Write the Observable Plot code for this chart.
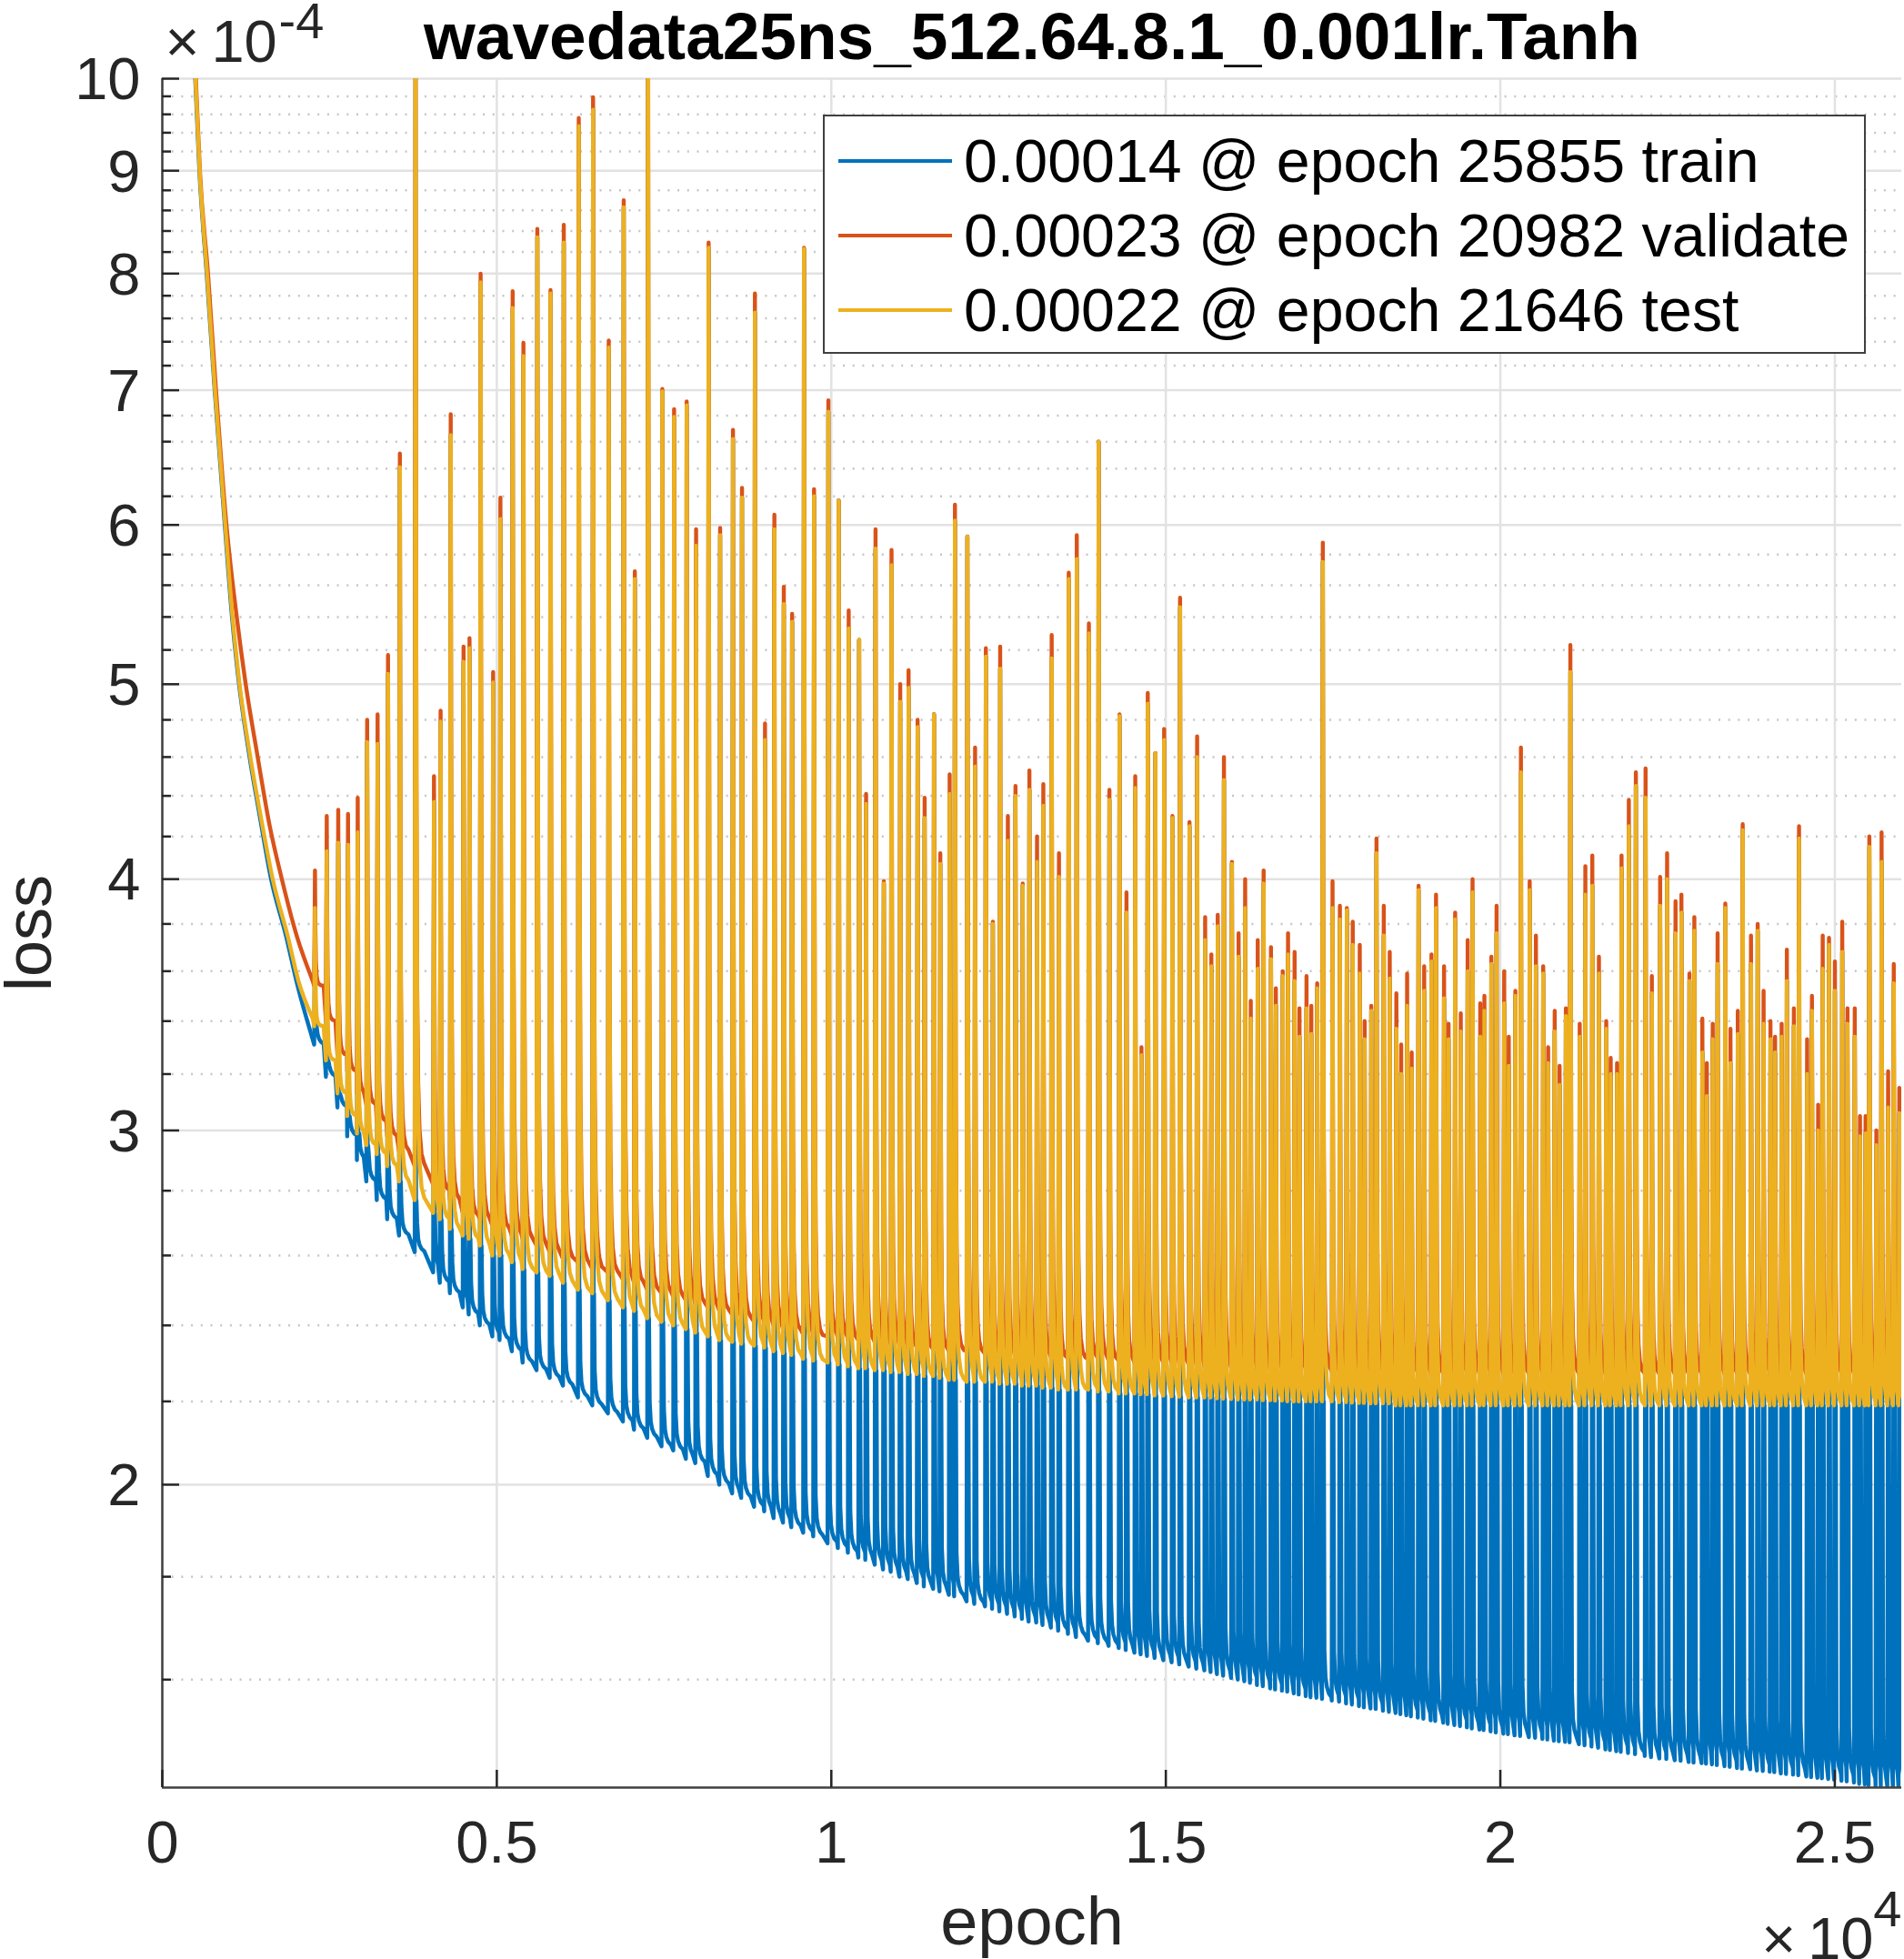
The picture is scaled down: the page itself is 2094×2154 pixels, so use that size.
<!DOCTYPE html>
<html lang="en">
<head>
    <meta charset="UTF-8">
    <title>wavedata25ns_512.64.8.1_0.001lr.Tanh</title>
    <script src="https://cdn.jsdelivr.net/npm/d3@7"></script>
    <script src="https://cdn.jsdelivr.net/npm/@observablehq/plot@0.6"></script>
    <style>
        html, body { margin: 0; background: white; }
        #chart { position: relative; width: 2094px; height: 2154px; overflow: hidden; font-family: "Liberation Sans", Arial, sans-serif; }
        #chart svg { display: block; }
        #legend { position: absolute; left: 905px; top: 126px; width: 1143px; height: 259px; background: white; border: 2.5px solid #404040; color: #000; font-size: 66.3px; }
        #legend .row { position: absolute; left: 0; height: 82px; line-height: 82px; white-space: nowrap; }
        #legend .key { position: absolute; left: 15px; width: 125px; height: 4px; top: 39px; }
        #legend .lab { position: absolute; left: 153px; top: 0; }
    </style>
</head>
<body>
    <div id="chart"></div>

    <script>
        // values, loss is in units of 1e-4
        const startEpochsTrain = [400, 492, 554, 663, 783, 934, 1044, 1144, 1300, 1456, 1626, 1852, 2013, 2236];
        const startLossTrain = [12, 10, 9, 8, 7, 6, 5.39, 5.01, 4.61, 4.30, 4.0, 3.745, 3.55, 3.34];
        const startEpochsValidate = [400, 502, 562, 683, 803, 959, 1116, 1243, 1421, 1606, 1787, 2013, 2249];
        const startLossValidate = [12, 10, 9, 8, 7, 6, 5.39, 5.01, 4.61, 4.25, 4.0, 3.745, 3.56];
        const startEpochsTest = [400, 496, 558, 668, 788, 941, 1052, 1151, 1311, 1470, 1650, 1877, 2035, 2249];
        const startLossTest = [12, 10, 9, 8, 7, 6, 5.39, 5.01, 4.61, 4.30, 4.0, 3.745, 3.56, 3.41];

        const spikeEpochs = [
            2282, 2458, 2630, 2776, 2921, 3062, 3218, 3374, 3551, 3785,
            4061, 4160, 4311, 4503, 4592, 4758, 4945, 5054, 5237, 5398,
            5606, 5803, 6001, 6225, 6439, 6673, 6897, 7063, 7261, 7474,
            7650, 7838, 7979, 8166, 8338, 8530, 8665, 8858, 9009, 9149,
            9290, 9414, 9592, 9742, 9956, 10110, 10260, 10416, 10520, 10661,
            10785, 10900, 11030, 11155, 11290, 11395, 11535, 11629, 11769, 11848,
            12034, 12149, 12310, 12415, 12524, 12639, 12753, 12861, 12961, 13075,
            13169, 13294, 13403, 13549, 13669, 13850, 13996, 14157, 14308, 14412,
            14543, 14636, 14730, 14844, 14975, 15099, 15213, 15354, 15468, 15588,
            15681, 15776, 15869, 15988, 16088, 16186, 16270, 16374, 16462, 16572,
            16645, 16748, 16827, 16925, 16998, 17103, 17175, 17263, 17347, 17492,
            17602, 17706, 17794, 17899, 17972, 18071, 18149, 18258, 18347, 18446,
            18518, 18607, 18675, 18778, 18862, 18971, 19039, 19159, 19226, 19325,
            19409, 19512, 19585, 19700, 19762, 19866, 19944, 20058, 20126, 20225,
            20308, 20439, 20532, 20641, 20715, 20813, 20886, 20980, 21047, 21187,
            21271, 21375, 21474, 21583, 21650, 21745, 21812, 21921, 22026, 22171,
            22265, 22389, 22493, 22619, 22707, 22827, 22900, 23020, 23087, 23175,
            23248, 23363, 23440, 23550, 23623, 23747, 23847, 23935, 24038, 24107,
            24205, 24283, 24388, 24465, 24586, 24658, 24751, 24819, 24913, 25001,
            25111, 25189, 25298, 25376, 25460, 25516, 25621, 25699, 25797, 25881,
            25964
        ];

        const validatePeaks = [
            4.04, 4.30, 4.33, 4.31, 4.39, 4.80, 4.83, 5.17, 6.51, 11,
            4.50, 4.85, 6.81, 5.22, 5.27, 8.00, 5.07, 6.19, 7.84, 7.39,
            8.42, 7.85, 8.46, 9.56, 9.79, 7.41, 8.70, 5.69, 11, 7.01,
            6.85, 6.91, 5.97, 8.29, 5.98, 6.69, 6.26, 7.82, 4.78, 6.07,
            5.59, 5.42, 8.24, 6.25, 6.92, 6.17, 5.44, 5.26, 4.41, 5.97,
            3.99, 5.83, 5.00, 5.08, 4.80, 4.39, 4.83, 4.12, 4.51, 6.14,
            5.92, 4.65, 5.21, 3.81, 5.22, 4.30, 4.45, 3.98, 4.53, 4.20,
            4.46, 5.29, 4.12, 5.68, 5.93, 5.36, 6.60, 4.43, 4.83, 3.94,
            4.50, 3.30, 4.95, 4.62, 4.75, 4.30, 5.52, 4.27, 4.71, 3.83,
            3.67, 3.84, 4.60, 4.08, 3.76, 4.00, 3.48, 3.73, 4.04, 3.70,
            3.53, 3.60, 3.76, 3.68, 3.45, 3.58, 3.46, 3.55, 5.88, 3.99,
            3.88, 3.87, 3.81, 3.71, 3.40, 3.46, 4.19, 3.88, 3.68, 3.51,
            3.31, 3.59, 3.28, 3.97, 3.62, 3.67, 3.93, 3.62, 3.39, 3.85,
            3.43, 3.73, 4.00, 3.47, 3.50, 3.66, 3.88, 3.60, 3.34, 3.52,
            4.65, 3.99, 3.75, 3.62, 3.30, 3.44, 3.23, 3.45, 5.23, 3.39,
            4.06, 4.11, 3.66, 3.40, 3.26, 3.24, 4.11, 4.38, 4.52, 4.54,
            3.58, 4.01, 4.12, 3.90, 3.93, 3.59, 3.83, 3.41, 3.24, 3.39,
            3.76, 3.89, 3.37, 3.44, 4.26, 3.75, 3.80, 3.52, 3.40, 3.34,
            3.39, 3.69, 3.45, 4.25, 3.33, 3.50, 3.09, 3.75, 3.74, 3.64,
            3.81, 3.45, 3.45, 3.05, 3.05, 4.20, 3.00, 4.22, 3.21, 3.63,
            3.15
        ];

        const testPeaks = [
            3.87, 4.13, 4.17, 4.16, 4.22, 4.68, 4.67, 5.06, 6.41, 11,
            4.37, 4.79, 6.65, 5.13, 5.21, 7.92, 5.01, 6.04, 7.69, 7.28,
            8.34, 7.82, 8.29, 9.47, 9.65, 7.35, 8.63, 5.64, 11, 6.99,
            6.79, 6.88, 5.86, 8.24, 5.93, 6.62, 6.19, 7.65, 4.69, 5.97,
            5.48, 5.37, 8.23, 6.20, 6.83, 6.17, 5.33, 5.26, 4.36, 5.84,
            3.98, 5.73, 4.90, 4.98, 4.76, 4.29, 4.83, 4.07, 4.41, 6.03,
            5.92, 4.55, 5.16, 3.80, 5.09, 4.18, 4.40, 3.97, 4.43, 4.08,
            4.35, 5.15, 4.01, 5.64, 5.77, 5.30, 6.60, 4.38, 4.82, 3.85,
            4.44, 3.27, 4.89, 4.62, 4.69, 4.29, 5.46, 4.25, 4.60, 3.73,
            3.62, 3.79, 4.48, 4.07, 3.66, 3.87, 3.41, 3.61, 3.98, 3.65,
            3.46, 3.58, 3.67, 3.56, 3.34, 3.45, 3.35, 3.53, 5.75, 3.87,
            3.82, 3.86, 3.71, 3.59, 3.33, 3.44, 4.12, 3.75, 3.57, 3.37,
            3.20, 3.46, 3.22, 3.95, 3.52, 3.64, 3.87, 3.49, 3.33, 3.82,
            3.36, 3.60, 3.94, 3.34, 3.44, 3.63, 3.76, 3.47, 3.23, 3.50,
            4.52, 3.95, 3.62, 3.59, 3.24, 3.36, 3.16, 3.42, 5.07, 3.34,
            3.93, 3.97, 3.59, 3.37, 3.20, 3.20, 4.05, 4.25, 4.45, 4.39,
            3.51, 3.88, 4.00, 3.76, 3.85, 3.56, 3.77, 3.28, 3.12, 3.33,
            3.63, 3.87, 3.24, 3.35, 4.23, 3.63, 3.77, 3.39, 3.33, 3.28,
            3.34, 3.56, 3.38, 4.19, 3.20, 3.44, 3.00, 3.61, 3.71, 3.52,
            3.68, 3.39, 3.34, 2.98, 2.99, 4.15, 2.95, 4.08, 3.08, 3.55,
            3.06
        ];

        const trainFloors = [
            3.31, 3.19, 3.08, 2.98, 2.90, 2.83, 2.77, 2.71, 2.66, 2.61,
            2.55, 2.52, 2.49, 2.45, 2.43, 2.40, 2.37, 2.36, 2.33, 2.30,
            2.28, 2.26, 2.24, 2.21, 2.19, 2.17, 2.15, 2.13, 2.11, 2.09,
            2.08, 2.06, 2.05, 2.02, 2.00, 1.98, 1.97, 1.95, 1.94, 1.925,
            1.915, 1.905, 1.893, 1.885, 1.87, 1.86, 1.85, 1.84, 1.835, 1.825,
            1.815, 1.81, 1.80, 1.795, 1.787, 1.78, 1.775, 1.77, 1.763, 1.76,
            1.75, 1.745, 1.74, 1.735, 1.73, 1.725, 1.72, 1.715, 1.71, 1.708,
            1.703, 1.698, 1.692, 1.686, 1.68, 1.673, 1.668, 1.663, 1.659, 1.655,
            1.65, 1.647, 1.644, 1.64, 1.636, 1.632, 1.628, 1.624, 1.62, 1.617,
            1.614, 1.61, 1.607, 1.603, 1.60, 1.597, 1.594, 1.59, 1.588, 1.584,
            1.582, 1.58, 1.578, 1.575, 1.573, 1.57, 1.568, 1.567, 1.565, 1.562,
            1.56, 1.557, 1.555, 1.552, 1.55, 1.548, 1.547, 1.544, 1.542, 1.54,
            1.538, 1.536, 1.534, 1.532, 1.53, 1.527, 1.526, 1.523, 1.521, 1.519,
            1.517, 1.515, 1.513, 1.511, 1.51, 1.508, 1.506, 1.504, 1.503, 1.501,
            1.5, 1.498, 1.497, 1.495, 1.494, 1.492, 1.491, 1.49, 1.489, 1.486,
            1.484, 1.482, 1.48, 1.477, 1.476, 1.474, 1.473, 1.471, 1.469, 1.466,
            1.464, 1.462, 1.461, 1.459, 1.458, 1.456, 1.455, 1.454, 1.453, 1.452,
            1.451, 1.449, 1.448, 1.446, 1.445, 1.444, 1.442, 1.441, 1.44, 1.439,
            1.437, 1.436, 1.435, 1.434, 1.432, 1.431, 1.43, 1.429, 1.428, 1.427,
            1.425, 1.424, 1.422, 1.42, 1.419, 1.418, 1.417, 1.416, 1.415, 1.413,
            1.412
        ];

        const validateFloors = [
            3.54, 3.40, 3.27, 3.21, 3.13, 3.09, 3.03, 2.98, 2.93, 2.88,
            2.82, 2.80, 2.77, 2.73, 2.72, 2.71, 2.69, 2.68, 2.66, 2.65,
            2.63, 2.61, 2.59, 2.58, 2.56, 2.55, 2.53, 2.52, 2.50, 2.49,
            2.48, 2.47, 2.46, 2.45, 2.44, 2.43, 2.42, 2.41, 2.41, 2.40,
            2.39, 2.385, 2.375, 2.37, 2.37, 2.365, 2.36, 2.36, 2.36, 2.355,
            2.35, 2.35, 2.345, 2.34, 2.34, 2.335, 2.335, 2.335, 2.33, 2.33,
            2.33, 2.325, 2.325, 2.32, 2.32, 2.32, 2.32, 2.32, 2.315, 2.315,
            2.315, 2.315, 2.31, 2.31, 2.31, 2.31, 2.31, 2.305, 2.305, 2.305,
            2.30, 2.30, 2.30, 2.30, 2.30, 2.30, 2.295, 2.295, 2.295, 2.29,
            2.29, 2.29, 2.29, 2.285, 2.285, 2.285, 2.285, 2.285, 2.28, 2.28,
            2.28, 2.28, 2.28, 2.28, 2.28, 2.275, 2.275, 2.275, 2.275, 2.275,
            2.275, 2.275, 2.275, 2.275, 2.27, 2.27, 2.27, 2.27, 2.27, 2.27,
            2.27, 2.27, 2.27, 2.27, 2.27, 2.27, 2.27, 2.27, 2.27, 2.27,
            2.27, 2.27, 2.27, 2.27, 2.27, 2.27, 2.27, 2.27, 2.27, 2.27,
            2.27, 2.27, 2.27, 2.27, 2.27, 2.27, 2.27, 2.27, 2.27, 2.27,
            2.27, 2.27, 2.27, 2.27, 2.27, 2.27, 2.27, 2.27, 2.27, 2.27,
            2.27, 2.27, 2.27, 2.27, 2.27, 2.27, 2.27, 2.27, 2.27, 2.27,
            2.27, 2.27, 2.27, 2.27, 2.27, 2.27, 2.27, 2.27, 2.27, 2.27,
            2.27, 2.27, 2.27, 2.27, 2.27, 2.27, 2.27, 2.27, 2.27, 2.27,
            2.27, 2.27, 2.27, 2.27, 2.27, 2.27, 2.27, 2.27, 2.27, 2.27,
            2.27
        ];

        const testFloors = [
            3.38, 3.25, 3.13, 3.05, 2.99, 2.95, 2.92, 2.88, 2.83, 2.77,
            2.73, 2.71, 2.68, 2.66, 2.65, 2.63, 2.60, 2.60, 2.58, 2.56,
            2.55, 2.54, 2.52, 2.50, 2.49, 2.47, 2.45, 2.44, 2.42, 2.41,
            2.40, 2.39, 2.38, 2.37, 2.36, 2.355, 2.35, 2.345, 2.34, 2.33,
            2.325, 2.32, 2.31, 2.305, 2.30, 2.295, 2.29, 2.285, 2.285, 2.28,
            2.28, 2.275, 2.275, 2.27, 2.27, 2.265, 2.265, 2.26, 2.255, 2.255,
            2.25, 2.25, 2.25, 2.25, 2.245, 2.245, 2.245, 2.24, 2.24, 2.24,
            2.235, 2.235, 2.23, 2.23, 2.23, 2.23, 2.225, 2.225, 2.22, 2.22,
            2.22, 2.218, 2.218, 2.215, 2.215, 2.213, 2.212, 2.21, 2.21, 2.21,
            2.21, 2.208, 2.207, 2.206, 2.205, 2.205, 2.205, 2.205, 2.203, 2.203,
            2.202, 2.202, 2.20, 2.20, 2.20, 2.20, 2.20, 2.20, 2.20, 2.20,
            2.198, 2.198, 2.197, 2.196, 2.196, 2.195, 2.195, 2.195, 2.195, 2.19,
            2.19, 2.19, 2.19, 2.19, 2.19, 2.19, 2.19, 2.19, 2.19, 2.19,
            2.19, 2.19, 2.19, 2.19, 2.19, 2.19, 2.19, 2.19, 2.19, 2.19,
            2.19, 2.19, 2.19, 2.19, 2.19, 2.19, 2.19, 2.19, 2.19, 2.19,
            2.19, 2.19, 2.19, 2.19, 2.19, 2.19, 2.19, 2.19, 2.19, 2.19,
            2.19, 2.19, 2.19, 2.19, 2.19, 2.19, 2.19, 2.19, 2.19, 2.19,
            2.19, 2.19, 2.19, 2.19, 2.19, 2.19, 2.19, 2.19, 2.19, 2.19,
            2.19, 2.19, 2.19, 2.19, 2.19, 2.19, 2.19, 2.19, 2.19, 2.19,
            2.19, 2.19, 2.19, 2.19, 2.19, 2.19, 2.19, 2.19, 2.19, 2.19,
            2.19
        ];

        // how a spike falls back after its peak: epochs after peak, share of height left
        const fallEpochs = [6, 14, 25, 40, 60, 90, 130];
        const fallShares = [0.5, 0.2, 0.08, 0.035, 0.015, 0.005, 0.001];
        // the train line stays up longer, then its tail is about the same height everywhere (loss above the floor)
        const trainFallEpochs = [8, 14, 24, 40, 60, 90, 130];
        const trainFallLoss = [1, 1, 0.09, 0.04, 0.022, 0.01, 0.003];

        const xTicks = [0, 5000, 10000, 15000, 20000, 25000];
        const yTicks = [2, 3, 4, 5, 6, 7, 8, 9, 10];
        const yMinor = [1.6, 1.8, 2.2, 2.4, 2.6, 2.8, 3.2, 3.4, 3.6, 3.8, 4.2, 4.4, 4.6, 4.8, 5.2, 5.4, 5.6, 5.8,
            6.2, 6.4, 6.6, 6.8, 7.2, 7.4, 7.6, 7.8, 8.2, 8.4, 8.6, 8.8, 9.2, 9.4, 9.6, 9.8];

        const legendLabels = ["0.00014 @ epoch 25855 train", "0.00023 @ epoch 20982 validate", "0.00022 @ epoch 21646 test"];
        const colors = ["#0072BD", "#D95319", "#EDB120"];
        const textColor = "#262626";

        const toPoints = (epochs, loss) => epochs.map((e, i) => ({epoch: e, loss: loss[i]}));

        // the spiky part of a line, it goes on from the last point of the start curve
        function buildSpikes(start, floors, peaks, epochsAfter, aboveFloor) {
            const points = [start[start.length - 1]];
            spikeEpochs.forEach((e, i) => {
                const next = i + 1 < spikeEpochs.length ? spikeEpochs[i + 1] : 26060;
                points.push({epoch: e - 12, loss: floors[i]});
                points.push({epoch: e, loss: peaks[i]});
                epochsAfter.forEach((dt, j) => {
                    if (e + dt < next - 12) points.push({epoch: e + dt, loss: floors[i] + aboveFloor(i, j)});
                });
            });
            return points;
        }

        const trainStart = toPoints(startEpochsTrain, startLossTrain);
        const validateStart = toPoints(startEpochsValidate, startLossValidate);
        const testStart = toPoints(startEpochsTest, startLossTest);

        const trainSpikes = buildSpikes(trainStart, trainFloors, testPeaks, trainFallEpochs,
            (i, j) => Math.min(testFloors[i] - trainFloors[i], trainFallLoss[j]));
        const validateSpikes = buildSpikes(validateStart, validateFloors, validatePeaks, fallEpochs,
            (i, j) => fallShares[j] * (validatePeaks[i] - validateFloors[i]));
        const testSpikes = buildSpikes(testStart, testFloors, testPeaks, fallEpochs,
            (i, j) => fallShares[j] * (testPeaks[i] - testFloors[i]));

        const lineStyle = {x: "epoch", y: "loss", strokeWidth: 4.4, strokeLinejoin: "round", clip: true};

        const chart = Plot.plot({
            width: 2094,
            height: 2154,
            marginLeft: 178,
            marginRight: 3,
            marginTop: 86,
            marginBottom: 189,
            style: {fontFamily: '"Liberation Sans", Arial, sans-serif', background: "white"},
            x: {domain: [0, 26000]},
            y: {type: "log", domain: [1.414, 10]},
            marks: [
                Plot.gridY(yMinor, {stroke: "#c6c6c6", strokeOpacity: 1, strokeWidth: 2.5, strokeDasharray: "2 8.7"}),
                Plot.gridY(yTicks, {stroke: "#e2e2e2", strokeOpacity: 1, strokeWidth: 2.5}),
                Plot.gridX(xTicks, {stroke: "#e2e2e2", strokeOpacity: 1, strokeWidth: 2.5}),
                Plot.line(trainStart, {...lineStyle, curve: "monotone-x", stroke: colors[0]}),
                Plot.line(trainSpikes, {...lineStyle, stroke: colors[0]}),
                Plot.line(validateStart, {...lineStyle, curve: "monotone-x", stroke: colors[1]}),
                Plot.line(validateSpikes, {...lineStyle, stroke: colors[1]}),
                Plot.line(testStart, {...lineStyle, curve: "monotone-x", stroke: colors[2]}),
                Plot.line(testSpikes, {...lineStyle, stroke: colors[2]}),
                Plot.ruleX([0], {stroke: "#404040", strokeWidth: 2.5}),
                Plot.ruleY([1.414], {stroke: "#404040", strokeWidth: 2.5}),
                Plot.axisX({ticks: xTicks, tickFormat: d => d / 1e4, tickSize: -19, tickPadding: 55, fontSize: 65, fill: textColor, stroke: textColor, strokeWidth: 2.5, label: null}),
                Plot.axisY({ticks: yTicks, text: null, tickSize: -19, stroke: textColor, strokeWidth: 2.5, label: null}),
                Plot.axisY({ticks: yTicks, tickFormat: d => d, tickSize: 0, tickPadding: 24, dy: 2, fontSize: 65, fill: textColor, label: null}),
                Plot.axisY({ticks: yMinor, text: null, tickSize: -10, stroke: textColor, strokeWidth: 2.5, label: null}),
                Plot.text(["wavedata25ns_512.64.8.1_0.001lr.Tanh"], {frameAnchor: "top", dy: -73, fontSize: 73, fontWeight: "bold", fill: "#000"}),
                Plot.text(["epoch"], {frameAnchor: "bottom", dy: 172, fontSize: 74, fill: textColor}),
                Plot.text(["loss"], {frameAnchor: "left", rotate: -90, dx: -146, textAnchor: "middle", fontSize: 72, fill: textColor}),
                Plot.text(["×\u200910"], {frameAnchor: "top-left", dx: 3, dy: -65, fontSize: 65, fill: textColor}),
                Plot.text(["-4"], {frameAnchor: "top-left", dx: 128, dy: -84, fontSize: 56, fill: textColor}),
                Plot.text(["×\u200910"], {frameAnchor: "bottom-right", dx: -31, dy: 188, fontSize: 65, fill: textColor}),
                Plot.text(["4"], {frameAnchor: "bottom-right", dx: 0, dy: 152, fontSize: 56, fill: textColor})
            ]
        });

        const box = document.getElementById("chart");
        box.appendChild(chart);

        const legend = document.createElement("div");
        legend.id = "legend";
        legendLabels.forEach((label, i) => {
            const row = document.createElement("div");
            row.className = "row";
            row.style.top = (8 + i * 82) + "px";
            row.innerHTML = `<div class="key" style="background:${colors[i]}"></div><div class="lab">${label}</div>`;
            legend.appendChild(row);
        });
        box.appendChild(legend);
    </script>
</body>
</html>
